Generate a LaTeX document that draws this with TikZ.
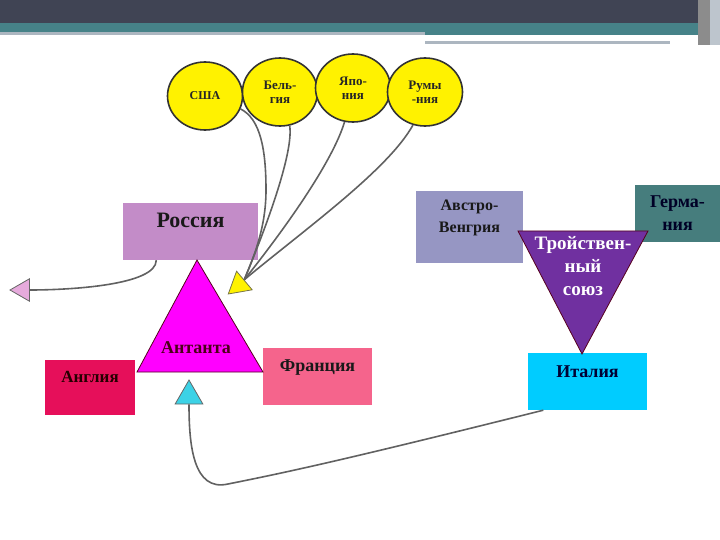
\documentclass[tikz,border=0pt]{standalone}
\usepackage{fontspec}
\setmainfont{Liberation Serif}
\usetikzlibrary{shapes.geometric,calc}
\definecolor{hdark}{RGB}{64,68,84}
\definecolor{hteal}{RGB}{70,130,136}
\definecolor{hgray}{RGB}{172,182,192}
\definecolor{russiac}{RGB}{195,140,200}
\definecolor{entente}{RGB}{255,0,255}
\definecolor{englandc}{RGB}{230,15,90}
\definecolor{francec}{RGB}{245,100,140}
\definecolor{austriac}{RGB}{150,150,195}
\definecolor{germanyc}{RGB}{70,125,125}
\definecolor{triple}{RGB}{112,48,160}
\definecolor{italyc}{RGB}{0,204,255}
\definecolor{cyanhead}{RGB}{60,210,230}
\definecolor{pinkhead}{RGB}{230,170,220}
\tikzset{
ball/.style={ellipse,draw=black!80,line width=1.6pt,fill=yellow,minimum width=75pt,minimum height=68pt,inner sep=0pt,align=center,font=\bfseries\fontsize{13}{14}\selectfont,text=black!85},
statebox/.style={rectangle,inner sep=0pt,align=center,font=\bfseries\fontsize{18}{22}\selectfont,text=black!90},
raised/.style={text height=14pt,text depth=#1},
arrhead/.style={regular polygon,regular polygon sides=3,draw=black!60,line width=0.8pt,inner sep=0pt},
link/.style={draw=black!62,line width=1.6pt},
bloc/.style={draw=black!55!purple,line width=0.8pt}
}
\begin{document}
\begin{tikzpicture}[x=1pt,y=-1pt]
\useasboundingbox (0,0) rectangle (720,540);
% header bars
\fill[hdark] (0,0) rectangle (698,23);
\fill[hteal] (0,23) rectangle (698,32);
\fill[hteal] (425,32) rectangle (698,35);
\fill[hgray] (0,32) rectangle (425,35);
\fill[hgray] (425,41) rectangle (670,44);
\fill[black!45] (698,0) rectangle (710,45);
\fill[hgray!80] (710,0) rectangle (720,45);

% countries
\node[statebox,raised=21pt,fill=russiac,minimum width=135pt,minimum height=57pt,font=\bfseries\fontsize{22}{24}\selectfont] (russia) at (190.5,231.5) {Россия};
\node[statebox,raised=24pt,fill=englandc,minimum width=90pt,minimum height=55pt,font=\bfseries\fontsize{17}{20}\selectfont,text=black!85!red] (england) at (90,387.5) {Англия};
\node[statebox,raised=24pt,fill=francec,minimum width=109pt,minimum height=57pt] (france) at (317.5,376.5) {Франция};
\node[statebox,text depth=22pt,fill=austriac,minimum width=107pt,minimum height=72pt,font=\bfseries\fontsize{16}{22}\selectfont] (austria) at (469.5,227) {Австро-\\Венгрия};
\node[statebox,fill=germanyc,minimum width=85pt,minimum height=57pt,font=\bfseries\fontsize{18}{23}\selectfont,text=black!85!blue] (germany) at (677.5,213.5) {Герма-\\ния};
\node[statebox,raised=23pt,fill=italyc,minimum width=119pt,minimum height=57pt,text=black!80!blue] (italy) at (587.5,381.5) {Италия};

% blocs
\fill[entente,bloc] (197,260) -- (263,372) -- (137,372) -- cycle;
\node[font=\bfseries\fontsize{18}{20}\selectfont,text=black!60!purple] (antanta) at (196,348) {Антанта};
\fill[triple,bloc] (518,231) -- (648,231) -- (582,354) -- cycle;
\node[font=\bfseries\fontsize{19}{23}\selectfont,text=white,align=center] (troy) at (583,266) {Тройствен-\\ный\\союз};

% arrow heads
\node[arrhead,fill=pinkhead,minimum size=26pt,shape border rotate=90] (pinkh) at (23,290) {};
\node[arrhead,fill=yellow,draw=black!60!yellow,minimum size=28pt,shape border rotate=130] (yhead) at (239,285) {};
\node[arrhead,fill=cyanhead,minimum size=32pt] (cyanh) at (189,396) {};

% links
\draw[link] (russia.220) .. controls +(0,25) and +(40,0) .. (pinkh.east);
\draw[link] (italy.213) .. controls +(-200,50) and +(60,-12) .. (228,484) .. controls +(-35,8) and +(0,40) .. (cyanh.south);

% small states
\node[ball,font=\bfseries\fontsize{12}{13}\selectfont] (usa) at (205,96) {США};
\draw[link] (usa.-20) .. controls +(20,10) and +(0,-40) .. (266,190) .. controls +(0,40) and +(8,-20) .. (yhead.45);
\node[ball] (belgium) at (280,92) {Бель-\\гия};
\draw[link] (belgium.286) .. controls +(4,25) and +(25,-60) .. (yhead.45);
\node[ball] (japan) at (353,88) {Япо-\\ния};
\draw[link] (japan.256) .. controls +(-12,40) and +(40,-50) .. (yhead.45);
\node[ball] (romania) at (425,92) {Румы\\-ния};
\draw[link] (romania.250) .. controls +(-25,45) and +(60,-50) .. (yhead.45);
\end{tikzpicture}
\end{document}
